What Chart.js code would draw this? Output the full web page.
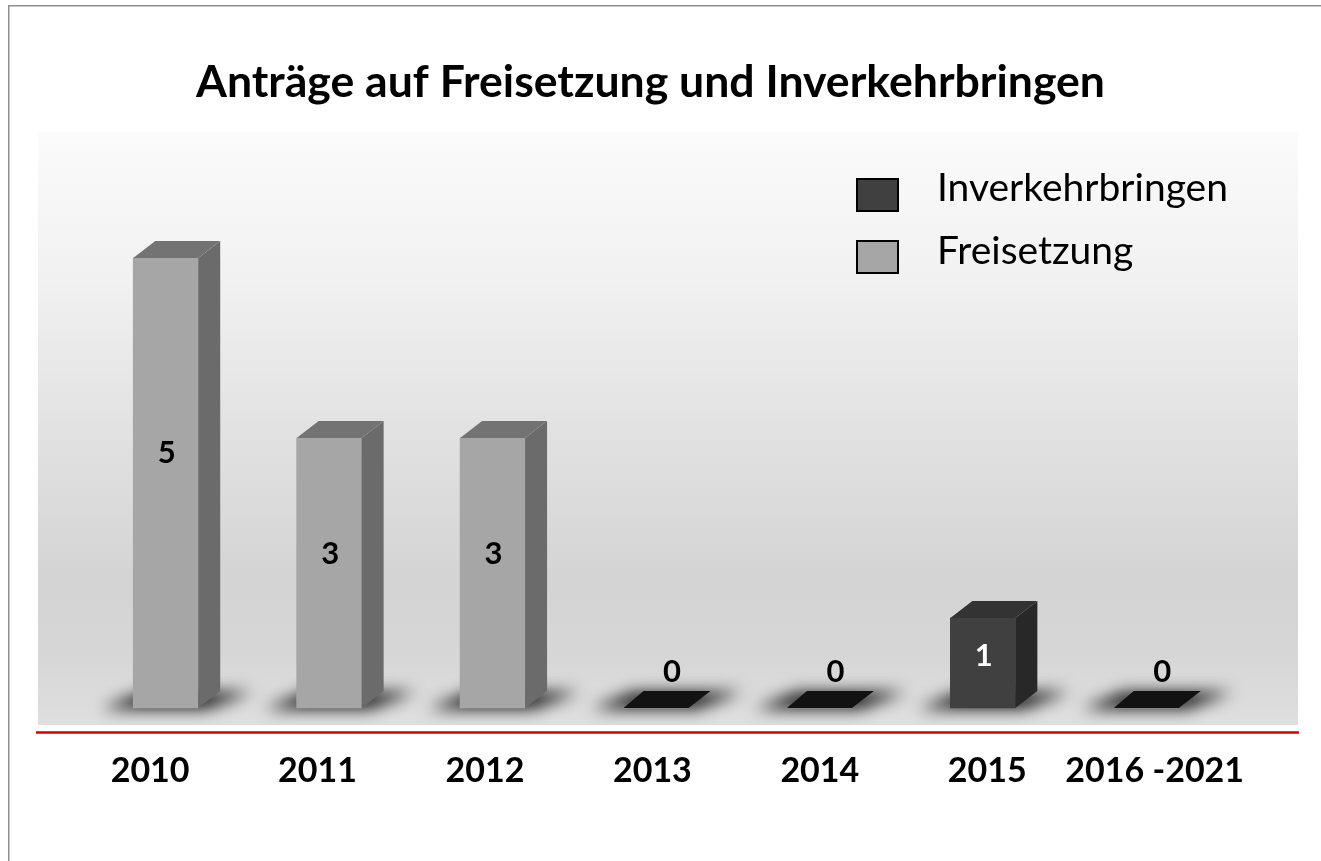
<!DOCTYPE html>
<html>
<head>
<meta charset="utf-8">
<script src="https://cdn.jsdelivr.net/npm/chart.js@4.4.1/dist/chart.umd.min.js"></script>
<style>
  html, body { margin: 0; padding: 0; background: #ffffff; overflow: hidden; width: 100%; height: 100%; }
  canvas#c { display: block; position: fixed; left: 0; top: 0; }
</style>
</head>
<body>
<canvas id="c" width="1321" height="861"></canvas>
<script>
// ---- data ----
const categories = ['2010', '2011', '2012', '2013', '2014', '2015', '2016 -2021'];
const seriesNames = ['Inverkehrbringen', 'Freisetzung'];
const inverkehrbringen = [null, null, null, null, null, 1, null];
const freisetzung = [5, 3, 3, 0, 0, null, 0];
const chartTitle = 'Anträge auf Freisetzung und Inverkehrbringen';

// ---- styles ----
const FONT = 'Lato, "Open Sans", sans-serif';
const styles = {
  Inverkehrbringen: { front: '#404040', side: '#282828', top: '#333333', label: '#ffffff' },
  Freisetzung: { front: '#a6a6a6', side: '#6b6b6b', top: '#737373', label: '#000000' }
};
const DX = 22, DY = 17;
const PERSPECTIVE = 1.0245; // spread of category labels relative to bar fronts

function fitFont(ctx, text, weight, target) {
  ctx.font = weight + ' 100px ' + FONT;
  const w = ctx.measureText(text).width;
  return weight + ' ' + (100 * target / w).toFixed(2) + 'px ' + FONT;
}

const decor = {
  id: 'decor',
  beforeDraw(chart) {
    const ctx = chart.ctx;
    ctx.save();
    ctx.fillStyle = '#ffffff';
    ctx.fillRect(0, 0, chart.width, chart.height);
    // outer frame (left and top edges only)
    ctx.fillStyle = '#8f8f8f';
    ctx.fillRect(8, 5, 1.5, 861 - 5);
    ctx.fillRect(8, 5, 1321 - 8, 1.5);
    // plot background gradient
    const g = ctx.createLinearGradient(0, 132, 0, 725);
    g.addColorStop(0, '#fbfbfb');
    g.addColorStop(0.25, '#f1f1f1');
    g.addColorStop(0.5, '#e2e2e2');
    g.addColorStop(0.75, '#d4d4d4');
    g.addColorStop(0.88, '#d6d6d6');
    g.addColorStop(1, '#dfdfdf');
    ctx.fillStyle = g;
    ctx.fillRect(38, 132, 1260, 593);
    // red baseline
    ctx.strokeStyle = '#d40000';
    ctx.lineWidth = 2.5;
    ctx.beginPath();
    ctx.moveTo(36, 732.5);
    ctx.lineTo(1299, 732.5);
    ctx.stroke();
    // title
    ctx.fillStyle = '#000000';
    ctx.font = fitFont(ctx, chartTitle, 'bold', 909);
    ctx.textAlign = 'center';
    ctx.textBaseline = 'alphabetic';
    ctx.fillText(chartTitle, 650.5, 97);
    ctx.restore();
  },
  beforeDatasetsDraw(chart) {
    const ctx = chart.ctx;
    ctx.save();
    ctx.beginPath();
    ctx.rect(38, 132, 1260, 593);
    ctx.clip();
    ctx.filter = 'blur(8px)';
    ctx.fillStyle = 'rgba(0,0,0,0.9)';
    chart.data.datasets.forEach((ds, di) => {
      const meta = chart.getDatasetMeta(di);
      meta.data.forEach((el, i) => {
        if (ds.data[i] === null || ds.data[i] === undefined) return;
        const L = el.x - el.width / 2, R = el.x + el.width / 2, b = el.base;
        ctx.beginPath();
        ctx.moveTo(L - 32, b + 1);
        ctx.lineTo(R + 8, b + 1);
        ctx.lineTo(R + DX + 32, b - DY + 1);
        ctx.lineTo(L + DX - 12, b - DY + 1);
        ctx.closePath();
        ctx.fill();
      });
    });
    ctx.restore();
  },
  afterDatasetsDraw(chart) {
    const ctx = chart.ctx;
    ctx.save();
    const labelFont = 'bold 31px ' + FONT;
    chart.data.datasets.forEach((ds, di) => {
      const meta = chart.getDatasetMeta(di);
      const st = styles[ds.label];
      meta.data.forEach((el, i) => {
        const v = ds.data[i];
        if (v === null || v === undefined) return;
        const L = el.x - el.width / 2, R = el.x + el.width / 2, t = el.y, b = el.base;
        if (v > 0) {
          ctx.fillStyle = st.side;
          ctx.beginPath();
          ctx.moveTo(R, t); ctx.lineTo(R + DX, t - DY); ctx.lineTo(R + DX, b - DY); ctx.lineTo(R, b);
          ctx.closePath(); ctx.fill();
          ctx.fillStyle = st.top;
          ctx.beginPath();
          ctx.moveTo(L, t); ctx.lineTo(L + DX, t - DY); ctx.lineTo(R + DX, t - DY); ctx.lineTo(R, t);
          ctx.closePath(); ctx.fill();
          ctx.fillStyle = st.label;
          ctx.font = labelFont;
          ctx.textAlign = 'center';
          ctx.textBaseline = 'middle';
          ctx.fillText(String(v), el.x + 1, b - 0.565 * (b - t) - 1);
        } else {
          ctx.fillStyle = '#121212';
          ctx.beginPath();
          ctx.moveTo(L, b); ctx.lineTo(L + DX - 2, b - DY); ctx.lineTo(R + DX, b - DY); ctx.lineTo(R, b);
          ctx.closePath(); ctx.fill();
          ctx.fillStyle = '#000000';
          ctx.font = labelFont;
          ctx.textAlign = 'center';
          ctx.textBaseline = 'middle';
          ctx.fillText(String(v), el.x + 16, b - 36);
        }
      });
    });
    // x category labels
    const xs = chart.scales.x;
    const mid = xs.getPixelForValue((chart.data.labels.length - 1) / 2);
    ctx.fillStyle = '#000000';
    ctx.font = 'bold 34px ' + FONT;
    ctx.textAlign = 'center';
    ctx.textBaseline = 'alphabetic';
    chart.data.labels.forEach((lab, i) => {
      const px = xs.getPixelForValue(i);
      ctx.fillText(lab, mid + (px - mid) * PERSPECTIVE - 3.6, 782);
    });
    // legend
    const legFont = fitFont(ctx, chart.data.datasets[0].label, 'normal', 291);
    chart.data.datasets.forEach((ds, di) => {
      const y0 = 178 + di * 62;
      ctx.fillStyle = ds.backgroundColor;
      ctx.fillRect(856, y0, 43, 34);
      ctx.strokeStyle = '#000000';
      ctx.lineWidth = 2;
      ctx.strokeRect(857, y0 + 1, 41, 32);
      ctx.fillStyle = '#000000';
      ctx.font = legFont;
      ctx.textAlign = 'left';
      ctx.textBaseline = 'alphabetic';
      ctx.fillText(ds.label, 937, y0 + 23 + di * 1);
    });
    ctx.restore();
  }
};

new Chart(document.getElementById('c'), {
  type: 'bar',
  data: {
    labels: categories,
    datasets: [
      { label: seriesNames[0], data: inverkehrbringen, backgroundColor: styles.Inverkehrbringen.front, borderWidth: 0, barThickness: 65 },
      { label: seriesNames[1], data: freisetzung, backgroundColor: styles.Freisetzung.front, borderWidth: 0, barThickness: 65 }
    ]
  },
  options: {
    responsive: false,
    devicePixelRatio: 1,
    animation: false,
    layout: { padding: { left: 84, right: 93, top: 133, bottom: 129 } },
    scales: {
      x: { display: false, stacked: true, grid: { display: false } },
      y: { display: false, stacked: true, min: -0.2667, max: 6.389, grid: { display: false } }
    },
    plugins: {
      legend: { display: false },
      title: { display: false },
      tooltip: { enabled: false }
    }
  },
  plugins: [decor]
});
</script>
</body>
</html>
